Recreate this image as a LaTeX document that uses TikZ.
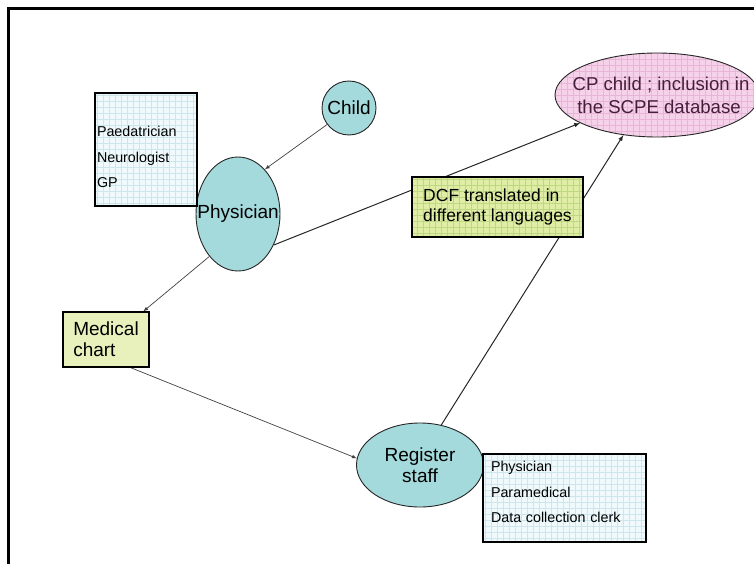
\documentclass[tikz,border=0pt]{standalone}
\usepackage{fontspec}
\setmainfont{Liberation Sans}
\usetikzlibrary{shapes.geometric,backgrounds}

\definecolor{tealfill}{RGB}{164,218,220}
\definecolor{pinkfill}{RGB}{246,210,234}
\definecolor{pinkgrid}{RGB}{232,180,215}
\definecolor{pinktext}{RGB}{70,30,60}
\definecolor{limefill}{RGB}{224,237,165}
\definecolor{limegrid}{RGB}{190,215,130}
\definecolor{chartfill}{RGB}{232,240,188}
\definecolor{listfill}{RGB}{240,250,252}
\definecolor{listgrid}{RGB}{205,230,238}

% text that does not widen its shape
\newcommand{\nowide}[1]{\makebox[0pt]{#1}}

\begin{document}
\begin{tikzpicture}[x=1pt,y=-1pt,>=latex]
	\tikzstyle{gridded}=[path picture={\draw[#1,line width=0.3pt,step=6pt] (path picture bounding box.south west) grid (path picture bounding box.north east);}]
	\tikzstyle{person}=[ellipse,draw=black!85,line width=0.9pt,fill=tealfill,inner sep=0pt,align=center,font=\fontsize{19}{21}\selectfont]
	\tikzstyle{doc}=[rectangle,draw=black,line width=1.1pt,inner sep=0pt,align=left,font=\fontsize{17.5}{20}\selectfont]
	\tikzstyle{roles}=[rectangle,draw=black,line width=1.1pt,fill=listfill,gridded=listgrid,align=left,font=\fontsize{14.3}{25.5}\selectfont]
	\tikzstyle{link}=[->,draw=black!75,line width=0.7pt]

	\useasboundingbox (0,0) rectangle (754,564);
	\clip (0,0) rectangle (754,564);

	% frame
	\draw[line width=3pt] (8,566) -- (8,9) -- (756,9);

	\node[person,circle,minimum size=54pt] (child) at (349,108) {Child};
	\node[person,minimum width=84pt,minimum height=114pt] (phys) at (238,214) {\nowide{Physician}};
	\node[roles,minimum height=113pt,text width=98pt,inner xsep=2pt] (doctors) at (146,149.5) {\rule{0pt}{26pt}Paedatrician\\Neurologist\\GP};

	\node[ellipse,draw=black!85,line width=0.9pt,fill=pinkfill,gridded=pinkgrid,inner sep=0pt,minimum width=204pt,minimum height=84pt,align=center,text=pinktext,font=\fontsize{18.6}{23}\selectfont] (scpe) at (657,95) {\nowide{\hspace{8pt}CP child ; inclusion in}\\\nowide{\hspace{4pt}the SCPE database}};
	\node[doc,fill=limefill,gridded=limegrid,minimum width=171pt,minimum height=60pt] (dcf) at (497.5,207) {DCF translated in\\different languages};
	\node[doc,fill=chartfill,minimum width=86pt,minimum height=55pt,font=\fontsize{19}{21}\selectfont] (chart) at (106,339.5) {Medical\\chart};

	\node[person,minimum width=127pt,minimum height=84pt] (staff) at (420,465) {Register\\staff};
	\node[roles,minimum height=88pt,text width=147pt,inner xsep=8pt] (collectors) at (564.5,498) {Physician\\Paramedical\\Data collection clerk\rule[-12pt]{0pt}{0pt}};

	\begin{pgfonlayer}{background}
		\draw[link] (child.217) -- (phys.59);
		\draw[link,line width=1pt,draw=black!85] (phys.319) -- (scpe.200);
		\draw[link,line width=1pt,draw=black!85] (staff.62) -- (scpe.230);
		\draw[link] (phys.236) -- (chart.37);
		\draw[link] (chart.-49) -- (staff.174);
	\end{pgfonlayer}
\end{tikzpicture}
\end{document}
